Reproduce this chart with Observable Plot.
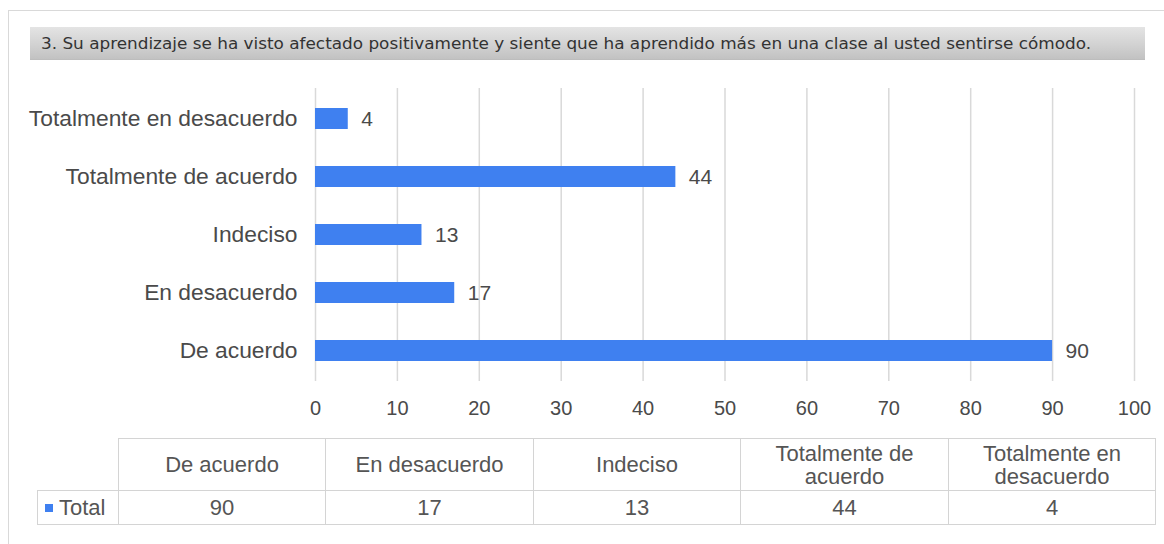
<!DOCTYPE html>
<html>
<head>
<meta charset="utf-8">
<script src="https://cdn.jsdelivr.net/npm/d3@7"></script>
<script src="https://cdn.jsdelivr.net/npm/@observablehq/plot@0.6"></script>
<style>
  html, body { margin: 0; padding: 0; background: #fff; }
  body { width: 1164px; height: 544px; position: relative; overflow: hidden; font-family: "Liberation Sans", Arial, sans-serif; }
  #frame { position: absolute; left: 8px; top: 10px; width: 1160px; height: 545px; border: 1px solid #d9d9d9; box-sizing: border-box; }
  #title { position: absolute; left: 30px; top: 27px; width: 1115px; height: 33px;
           background: linear-gradient(to bottom, #e4e4e4 0%, #d2d2d2 55%, #c2c2c2 100%);
           border-bottom: 1px solid #bdbdbd; box-sizing: border-box; }
  #title svg { display: block; }
  #chart { position: absolute; left: 0; top: 70px; }
  #tbl { position: absolute; left: 37px; top: 438px; border-collapse: collapse; table-layout: fixed; color: #555; font-size: 22px; }
  #tbl td, #tbl th { border: 1px solid #d4d4d4; text-align: center; font-weight: normal; padding: 0; white-space: nowrap; }
  #tbl th { height: 51px; line-height: 23px; }
  #tbl td { height: 33px; }
  #tbl th.corner { border: none; }
  #tbl td.lab { text-align: left; padding-left: 7px; }
  .sw { display: inline-block; width: 8px; height: 8px; background: #3f80f0; margin-right: 6px; vertical-align: 3px; }
</style>
</head>
<body>
<div id="frame"></div>
<div id="title"></div>
<div id="chart"></div>
<table id="tbl"></table>
<script>
const titleText = "3. Su aprendizaje se ha visto afectado positivamente y siente que ha aprendido más en una clase al usted sentirse cómodo.";
const categories = ["De acuerdo", "En desacuerdo", "Indeciso", "Totalmente de acuerdo", "Totalmente en desacuerdo"];
const headerLines = [["De acuerdo"], ["En desacuerdo"], ["Indeciso"], ["Totalmente de", "acuerdo"], ["Totalmente en", "desacuerdo"]];
const values = [90, 17, 13, 44, 4];
const seriesName = "Total";
const xTicks = [0, 10, 20, 30, 40, 50, 60, 70, 80, 90, 100];

// Title
document.getElementById("title").innerHTML =
  `<svg width="1115" height="33"><text x="11" y="22" font-family="DejaVu Sans Condensed, DejaVu Sans, sans-serif" font-size="15.5" fill="#333" textLength="1050" lengthAdjust="spacingAndGlyphs">${titleText}</text></svg>`;

const data = categories.map((c, i) => ({category: c, value: values[i]}));
const blue = "#3f80f0";
const textColor = "#4a4a4a";

const chart = Plot.plot({
  width: 1164,
  height: 356,
  marginLeft: 315,
  marginRight: 30,
  marginTop: 18,
  marginBottom: 45,
  style: {fontFamily: "Liberation Sans, Arial, sans-serif", color: textColor, background: "transparent"},
  x: {domain: [0, 100], ticks: xTicks, label: null},
  y: {domain: categories.slice().reverse(), paddingInner: 0.64, paddingOuter: 0.32, label: null},
  marks: [
    Plot.ruleX(xTicks, {stroke: "#d9d9d9", strokeWidth: 1.5}),
    Plot.barX(data, {x: "value", y: "category", fill: blue}),
    Plot.text(data, {x: "value", y: "category", text: d => String(d.value), textAnchor: "start", dx: 13, fontSize: 21, fill: textColor}),
    Plot.axisX({ticks: xTicks, tickSize: 0, tickPadding: 19, fontSize: 20, fill: textColor, label: null}),
    Plot.axisY({tickSize: 0, tickPadding: 18, fontSize: 22.8, fill: textColor, label: null})
  ]
});
document.getElementById("chart").appendChild(chart);

// Table
const tbl = document.getElementById("tbl");
const colW = [81, 207, 208, 207, 208, 207];
let html = "<colgroup>" + colW.map(w => `<col style="width:${w}px">`).join("") + "</colgroup>";
html += "<tr><th class='corner'></th>" + headerLines.map(l => `<th>${l.join("<br>")}</th>`).join("") + "</tr>";
html += `<tr><td class="lab"><span class="sw"></span>${seriesName}</td>` + values.map(v => `<td>${v}</td>`).join("") + "</tr>";
tbl.innerHTML = html;
</script>
</body>
</html>
